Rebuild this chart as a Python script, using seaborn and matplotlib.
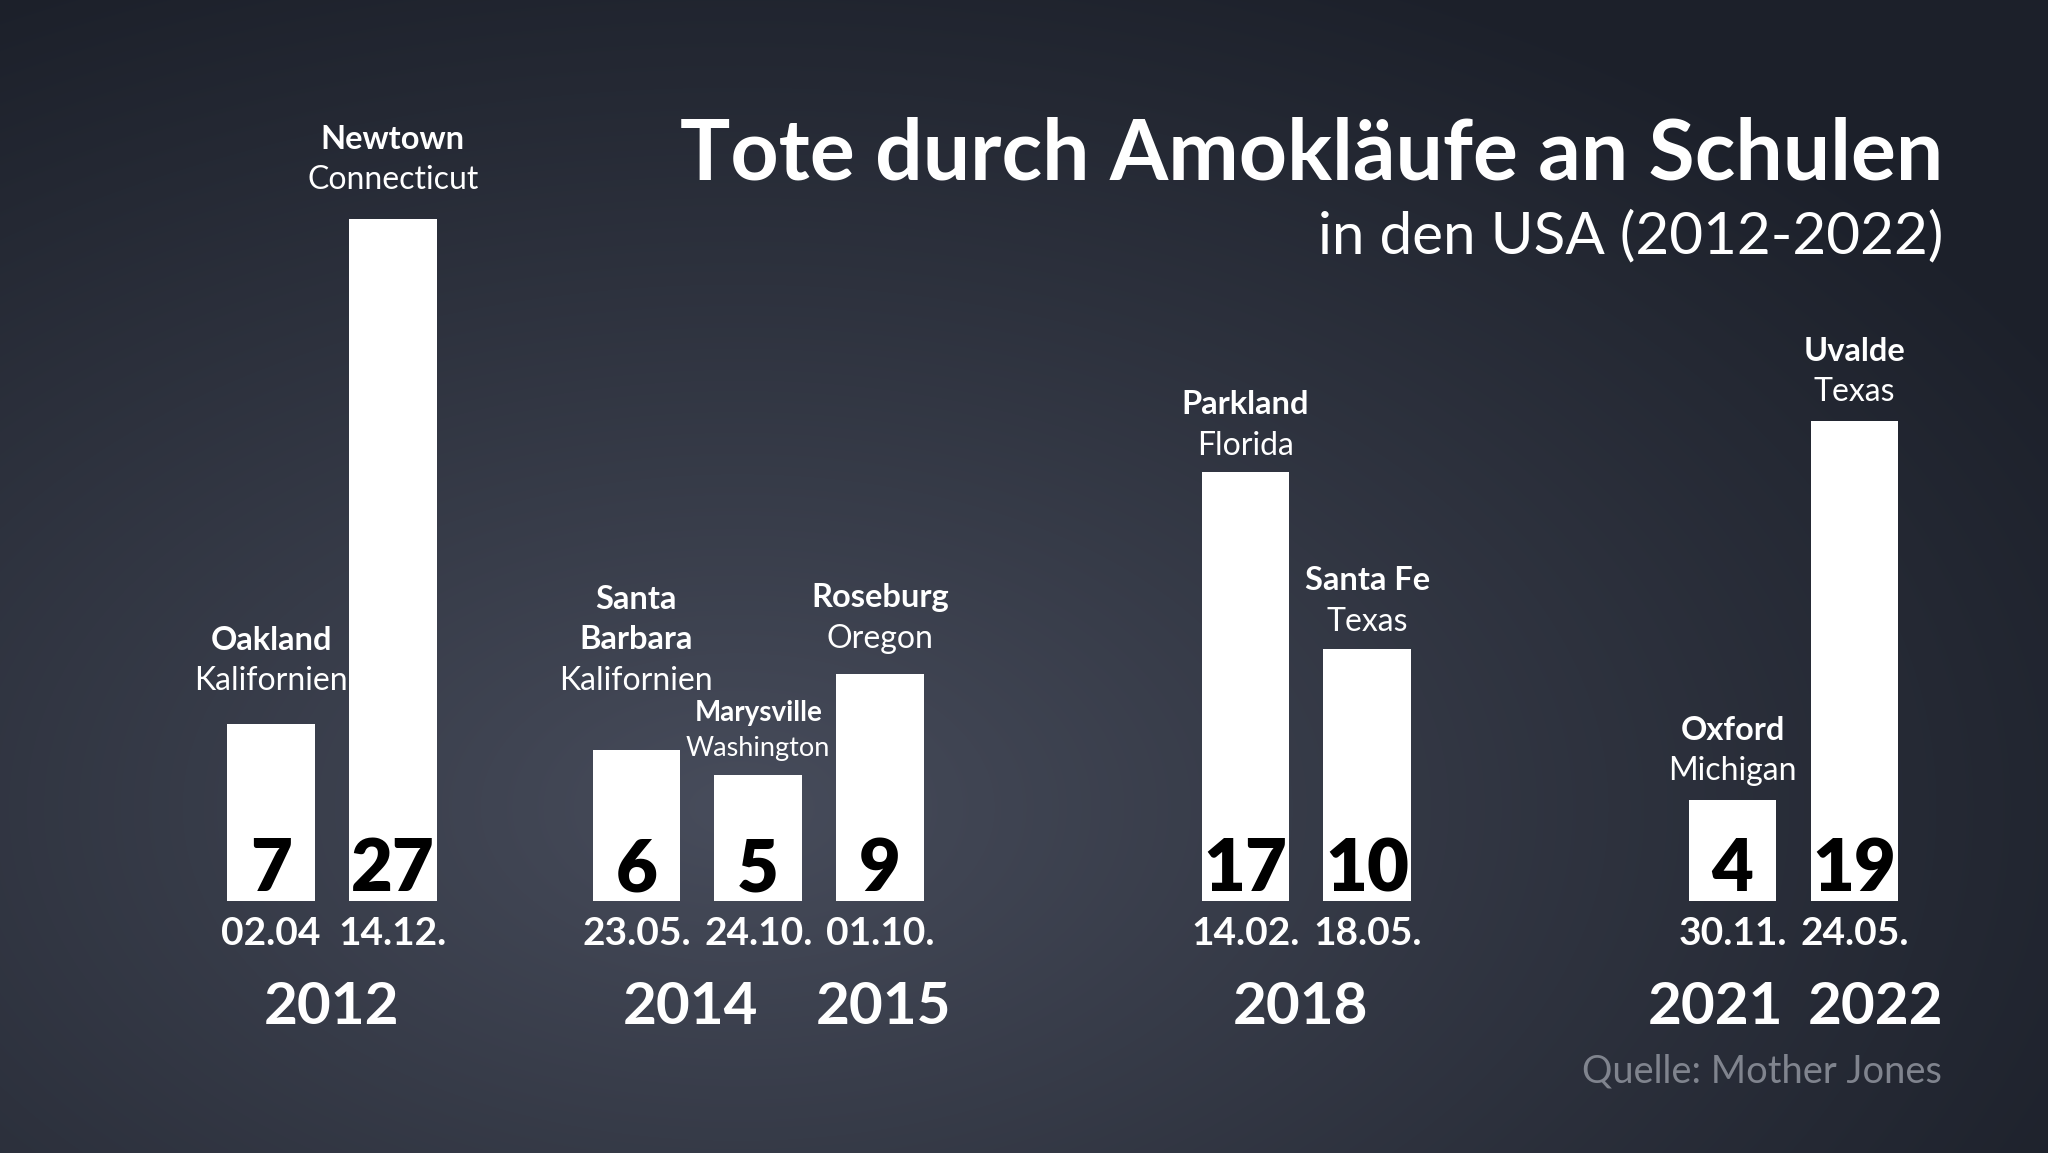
import numpy as np
import pandas as pd
import seaborn as sns
import matplotlib.pyplot as plt

# -----------------------------
# Data
# -----------------------------
orte = ["Oakland", "Newtown", "Santa\nBarbara", "Marysville", "Roseburg",
        "Parkland", "Santa Fe", "Oxford", "Uvalde"]
staaten = ["Kalifornien", "Connecticut", "Kalifornien", "Washington", "Oregon",
           "Florida", "Texas", "Michigan", "Texas"]
tote = [7, 27, 6, 5, 9, 17, 10, 4, 19]
datum = ["02.04", "14.12.", "23.05.", "24.10.", "01.10.",
         "14.02.", "18.05.", "30.11.", "24.05."]
jahr = [2012, 2012, 2014, 2014, 2015, 2018, 2018, 2021, 2022]

# -----------------------------
# Layout
# -----------------------------
slot = [0, 1, 3, 4, 5, 8, 9, 12, 13]          # bar positions on the x axis
label_gap = [34, 30, 60, 19, 26, 17, 18, 20, 20]  # px between bar top and state baseline
year_nudge = {2012: 0.0, 2014: -0.06, 2015: 0.03, 2018: -0.05, 2021: -0.14, 2022: 0.17}

df = pd.DataFrame({"slot": slot, "tote": tote})

W, H, DPI = 2048, 1153, 100
PX_PER_UNIT = 25.25
BASE_PX = 901.2
FONT = "Lato"

sns.set_style("white")
plt.rcParams["font.family"] = [FONT, "DejaVu Sans"]

fig = plt.figure(figsize=(W / DPI, H / DPI), dpi=DPI)

# background: soft radial gradient
bg = fig.add_axes([0, 0, 1, 1])
yy, xx = np.mgrid[0:H, 0:W]
d = np.sqrt(((xx - 0.36 * W) / (0.75 * W)) ** 2 + ((yy - 0.70 * H) / (0.80 * H)) ** 2)
t = np.clip(d, 0, 1) ** 0.9
inner = np.array([0x48, 0x4d, 0x5c]) / 255
outer = np.array([0x1c, 0x20, 0x2a]) / 255
img = inner[None, None, :] * (1 - t[..., None]) + outer[None, None, :] * t[..., None]
bg.imshow(img, aspect="auto", extent=[0, 1, 0, 1], zorder=0)
bg.axis("off")

# bars
ax = fig.add_axes([0, 0, 1, 1])
ax.patch.set_alpha(0)
sns.barplot(data=df, x="slot", y="tote", native_scale=True, width=0.72,
            color="white", saturation=1, edgecolor="none", ax=ax)
x0 = 271.0
unit_x = 121.8
ax.set_xlim(-x0 / unit_x, (W - x0) / unit_x)
ax.set_ylim(-(H - BASE_PX) / PX_PER_UNIT, BASE_PX / PX_PER_UNIT)
ax.axis("off")

px = 1 / PX_PER_UNIT
for i, (s, v) in enumerate(zip(slot, tote)):
    # value inside bar
    ax.text(s, 10 * px, str(v), ha="center", va="baseline", color="black",
            fontsize=52, fontweight="heavy")
    # date below bar
    ax.text(s, -44 * px, datum[i], ha="center", va="baseline", color="white",
            fontsize=28, fontweight="bold")
    # place / state above bar
    small = orte[i] == "Marysville"
    fs = 19.5 if small else 23
    step = 35 if small else 40.5
    yb = v + label_gap[i] * px
    ax.text(s, yb, staaten[i], ha="center", va="baseline", color="white",
            fontsize=fs, fontweight="normal")
    lines = orte[i].split("\n")
    for k, line in enumerate(reversed(lines)):
        ax.text(s, yb + (k + 1) * step * px, line, ha="center", va="baseline",
                color="white", fontsize=fs + 0.5, fontweight="bold")

# year labels under each group
for y in sorted(set(jahr)):
    xs = [s for s, j in zip(slot, jahr) if j == y]
    ax.text(np.mean(xs) + year_nudge[y], -123 * px, str(y), ha="center",
            va="baseline", color="white", fontsize=42, fontweight="bold")

# titles and source
fig.text(1943 / W, 1 - 179 / H, "Tote durch Amokläufe an Schulen", ha="right",
         va="baseline", color="white", fontsize=60.5, fontweight="bold")
fig.text(1943 / W, 1 - 253 / H, "in den USA (2012-2022)", ha="right",
         va="baseline", color="white", fontsize=42, fontweight="normal")
fig.text(1942 / W, 1 - 1083 / H, "Quelle: Mother Jones", ha="right",
         va="baseline", color="#80848e", fontsize=27.4, fontweight="normal")

fig.savefig("out.png", dpi=DPI)
plt.close(fig)
